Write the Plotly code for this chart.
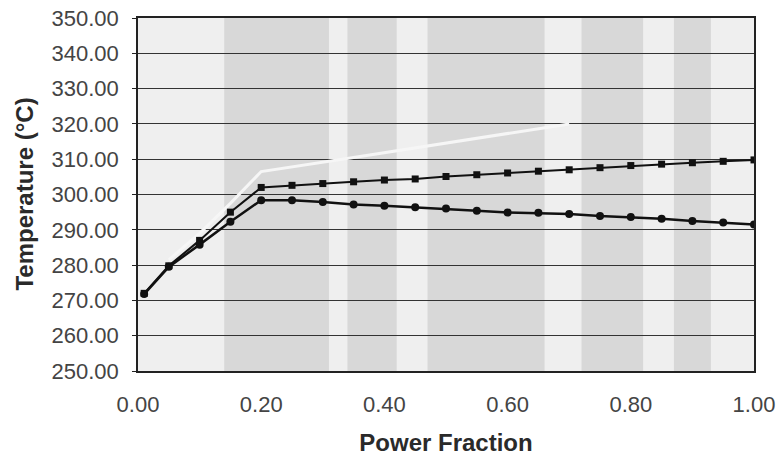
import plotly.graph_objects as go

# Data
power_fraction = [0.01, 0.05, 0.10, 0.15, 0.20, 0.25, 0.30, 0.35, 0.40, 0.45, 0.50,
                  0.55, 0.60, 0.65, 0.70, 0.75, 0.80, 0.85, 0.90, 0.95, 1.00]
temp_squares = [272.0, 279.8, 287.0, 295.0, 302.0, 302.6, 303.1, 303.6, 304.1, 304.4, 305.1,
                305.6, 306.1, 306.6, 307.0, 307.6, 308.2, 308.6, 309.0, 309.4, 309.8]
temp_diamonds = [271.8, 279.5, 285.8, 292.3, 298.4, 298.4, 297.9, 297.2, 296.8, 296.4, 296.0,
                 295.4, 294.9, 294.8, 294.5, 293.9, 293.6, 293.1, 292.5, 292.1, 291.5]
faint_x = [0.05, 0.10, 0.15, 0.20, 0.35, 0.70]
faint_y = [281.5, 289.0, 297.5, 306.5, 310.5, 320.0]

band_x0 = [0.14, 0.34, 0.47, 0.72, 0.87]
band_x1 = [0.31, 0.42, 0.66, 0.82, 0.93]

fig = go.Figure()

fig.add_trace(go.Scatter(x=faint_x, y=faint_y, mode="lines",
                         line=dict(color="#f6f6f6", width=3), showlegend=False))
fig.add_trace(go.Scatter(x=power_fraction, y=temp_squares, mode="lines+markers",
                         line=dict(color="#111111", width=2),
                         marker=dict(symbol="square", size=7, color="#111111"),
                         showlegend=False))
fig.add_trace(go.Scatter(x=power_fraction, y=temp_diamonds, mode="lines+markers",
                         line=dict(color="#111111", width=2.5),
                         marker=dict(symbol="circle", size=8, color="#111111"),
                         showlegend=False))

shapes = []
for a, b in zip(band_x0, band_x1):
    shapes.append(dict(type="rect", xref="x", yref="paper", x0=a, x1=b, y0=0, y1=1,
                       fillcolor="#bdbdbd", opacity=0.45, line=dict(width=0), layer="below"))

fig.update_layout(
    width=780, height=456,
    margin=dict(l=138, r=26, t=18, b=85, autoexpand=False),
    paper_bgcolor="white",
    plot_bgcolor="#efefef",
    font=dict(family="Liberation Sans, Arial, sans-serif", color="#444444", size=22),
    shapes=shapes,
    xaxis=dict(range=[0, 1], tickvals=[0, 0.2, 0.4, 0.6, 0.8, 1.0], tickformat=".2f",
               automargin=False, ticklabeloverflow="allow",
               showgrid=False, zeroline=False, showline=True, linecolor="#222222", linewidth=1.5,
               mirror=True, ticks="", ticklabelstandoff=13,
               tickfont=dict(size=22),
               title=dict(text="<b>Power Fraction</b>", font=dict(size=24, color="#2a2a2a"),
                          standoff=18)),
    yaxis=dict(range=[250, 350], dtick=10, tickformat=".2f", automargin=False,
               ticklabeloverflow="allow",
               showgrid=True, gridcolor="#333333", gridwidth=1.3,
               zeroline=False, showline=True, linecolor="#222222", linewidth=1.5,
               mirror=True, ticks="outside", ticklen=4, tickcolor="#222222",
               ticklabelstandoff=9, tickfont=dict(size=22)),
    annotations=[dict(text="<b>Temperature (°C)</b>", xref="paper", yref="paper",
                      x=-0.185, y=0.5, xanchor="center", yanchor="middle", textangle=-90,
                      showarrow=False, font=dict(size=24, color="#2a2a2a"))],
)

fig.write_html("out.html", config={"displayModeBar": False},
               post_script="document.body.style.margin='0';document.body.style.overflow='hidden';")
